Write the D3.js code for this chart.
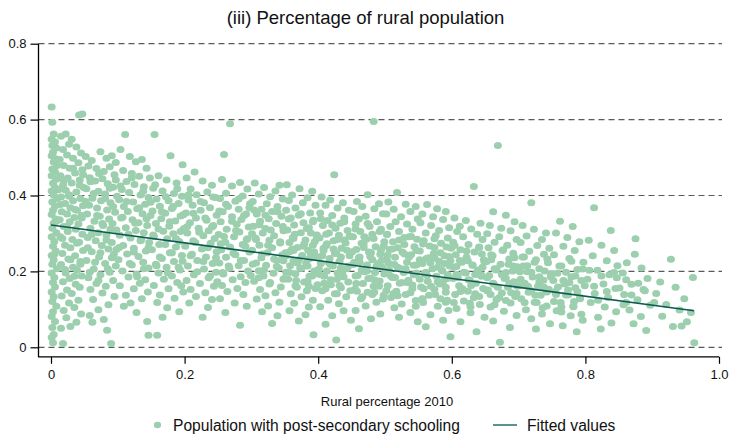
<!DOCTYPE html>
<html>
<head>
<meta charset="utf-8">
<script src="https://cdn.jsdelivr.net/npm/d3@7"></script>
<style>
  html, body { margin: 0; padding: 0; background: #fff; }
  svg { display: block; font-family: "Liberation Sans", Arial, sans-serif; }
</style>
</head>
<body>
<svg id="chart" width="730" height="439"></svg>
<script>
// ---------------- DATA ----------------
const chartTitle = "(iii) Percentage of rural population";
const xAxisTitle = "Rural percentage 2010";
const xTicks = [0, 0.2, 0.4, 0.6, 0.8, 1.0];
const xTickLabels = ["0", "0.2", "0.4", "0.6", "0.8", "1.0"];
const yTicks = [0, 0.2, 0.4, 0.6, 0.8];
const yTickLabels = ["0", "0.2", "0.4", "0.6", "0.8"];
const legendLabels = ["Population with post-secondary schooling", "Fitted values"];

// fitted line (rural share, fitted post-secondary share)
const fittedX = [0, 0.9626];
const fittedY = [0.3223, 0.0964];

// observations: [rural percentage 2010, share with post-secondary schooling]
const obsUrban = [
[.001,.633],[.002,.593],[.004,.562],[.001,.548],[.006,.541],[.002,.532],[.008,.525],[.003,.514],[.001,.505],[.007,.497],[.004,.488],[.009,.479],[.002,.470],[.005,.461],[.001,.452],[.008,.443],[.003,.432],[.006,.421],[.001,.412],[.004,.401],[.009,.392],[.002,.383],[.006,.372],[.003,.361],[.001,.350],[.007,.338],[.004,.327],[.002,.314],[.008,.302],[.001,.291],[.005,.279],[.003,.266],[.007,.254],[.001,.242],[.004,.231],[.002,.219],[.009,.207],[.001,.196],[.005,.184],[.003,.171],[.006,.159],[.001,.146],[.004,.133],[.002,.121],[.008,.108],[.003,.094],[.001,.081],[.006,.068],[.002,.052],[.004,.034],[.001,.026],[.003,.012],
[.015,.556],[.022,.562],[.031,.548],[.027,.535],[.018,.521],[.038,.528],[.045,.512],[.024,.507],[.013,.495],[.033,.498],[.041,.486],[.019,.479],[.028,.472],[.047,.468],[.036,.459],[.014,.452],[.025,.446],[.043,.441],[.031,.433],[.018,.427],[.049,.421],[.022,.414],[.038,.409],[.027,.402],[.015,.396],[.044,.392],[.033,.386],[.021,.379],[.048,.373],[.029,.368],[.039,.361],[.016,.357],[.024,.351],[.046,.347],[.035,.342],[.013,.336],[.028,.331],[.041,.325],[.019,.318],[.037,.311],[.025,.305],[.047,.298],[.014,.291],[.032,.284],[.042,.277],[.021,.269],[.029,.262],[.048,.255],[.017,.247],[.036,.241],[.026,.233],[.044,.226],[.015,.218],[.033,.211],[.039,.203],[.022,.196],[.046,.188],[.028,.181],[.018,.173],[.037,.166],[.043,.158],[.024,.151],[.031,.142],[.016,.135],[.041,.124],[.027,.117],[.035,.105],[.019,.097],[.045,.088],[.023,.078],[.038,.066],[.029,.055],[.018,.010],[.042,.612],[.047,.615],[.015,.050],
[.052,.503],[.061,.492],[.074,.515],[.083,.498],[.091,.505],[.097,.487],[.056,.478],[.068,.471],[.079,.463],[.088,.476],[.095,.455],[.058,.447],[.066,.438],[.077,.444],[.085,.431],[.093,.422],[.053,.418],[.071,.411],[.081,.404],[.099,.398],[.062,.393],[.075,.386],[.089,.381],[.057,.374],[.069,.367],[.084,.362],[.096,.356],[.054,.351],[.073,.345],[.087,.338],[.065,.332],[.092,.326],[.078,.321],[.059,.314],[.098,.309],[.071,.302],[.083,.296],[.055,.289],[.067,.281],[.091,.276],[.076,.268],[.086,.259],[.061,.252],[.094,.245],[.072,.238],[.053,.229],[.081,.221],[.097,.214],[.064,.206],[.088,.198],[.074,.191],[.056,.183],[.093,.176],[.068,.168],[.082,.161],[.059,.152],[.077,.143],[.095,.134],[.063,.126],[.086,.112],[.071,.099],[.058,.084],[.062,.066],[.079,.073],[.090,.010],[.084,.045],
[.104,.521],[.118,.503],[.111,.561],[.127,.489],[.136,.495],[.143,.472],[.108,.466],[.121,.458],[.132,.451],[.148,.446],[.113,.437],[.125,.429],[.139,.423],[.106,.416],[.117,.408],[.134,.401],[.146,.395],[.102,.389],[.123,.383],[.141,.377],[.109,.371],[.129,.365],[.115,.358],[.137,.352],[.149,.347],[.105,.341],[.122,.336],[.131,.328],[.144,.321],[.112,.315],[.127,.308],[.139,.302],[.103,.295],[.119,.288],[.134,.281],[.147,.276],[.108,.268],[.124,.261],[.142,.254],[.114,.246],[.131,.239],[.101,.231],[.138,.224],[.121,.217],[.146,.209],[.107,.201],[.128,.193],[.116,.185],[.141,.178],[.133,.169],[.103,.162],[.124,.154],[.145,.146],[.112,.137],[.136,.128],[.119,.117],[.144,.068],[.146,.032],[.128,.092],[.109,.108],
[.155,.561],[.179,.505],[.197,.481],[.161,.452],[.173,.441],[.188,.433],[.153,.419],[.167,.412],[.184,.405],[.196,.398],[.158,.391],[.176,.386],[.191,.379],[.163,.372],[.181,.366],[.152,.359],[.171,.353],[.194,.346],[.165,.339],[.186,.333],[.157,.326],[.177,.319],[.199,.313],[.168,.306],[.183,.299],[.154,.292],[.174,.286],[.192,.279],[.162,.271],[.187,.264],[.151,.257],[.178,.249],[.196,.242],[.166,.234],[.184,.226],[.157,.219],[.173,.211],[.193,.204],[.161,.196],[.181,.188],[.169,.179],[.189,.171],[.154,.163],[.176,.154],[.198,.146],[.163,.138],[.185,.129],[.159,.118],[.174,.104],[.192,.094],[.159,.032],[.167,.079],[.195,.162]
];

const obsMixed = [
[.215,.462],[.203,.446],[.227,.438],[.241,.427],[.209,.417],[.234,.409],[.218,.402],[.246,.395],[.206,.388],[.229,.381],[.212,.374],[.238,.368],[.224,.361],[.202,.354],[.248,.348],[.217,.341],[.233,.335],[.208,.328],[.243,.321],[.221,.314],[.236,.307],[.204,.301],[.228,.294],[.245,.287],[.213,.281],[.239,.274],[.201,.266],[.226,.259],[.248,.252],[.211,.245],[.232,.238],[.219,.229],[.242,.221],[.205,.214],[.229,.206],[.247,.198],[.214,.191],[.236,.183],[.203,.176],[.223,.168],[.244,.161],[.209,.152],[.231,.144],[.217,.134],[.241,.126],[.207,.117],[.227,.079],[.235,.105],[.249,.173],
[.259,.508],[.268,.589],[.283,.434],[.256,.442],[.271,.425],[.294,.417],[.262,.406],[.287,.399],[.253,.392],[.276,.385],[.298,.378],[.265,.371],[.281,.364],[.257,.357],[.292,.351],[.271,.344],[.285,.337],[.254,.331],[.278,.324],[.296,.317],[.263,.311],[.282,.304],[.251,.297],[.274,.291],[.293,.284],[.261,.277],[.287,.271],[.268,.264],[.255,.257],[.297,.251],[.276,.244],[.262,.237],[.289,.229],[.252,.222],[.281,.215],[.267,.208],[.295,.201],[.258,.193],[.284,.186],[.272,.178],[.291,.171],[.256,.163],[.279,.155],[.264,.147],[.288,.139],[.253,.128],[.275,.117],[.293,.108],[.283,.058],[.261,.092],[.299,.189],
[.305,.433],[.319,.421],[.336,.412],[.342,.427],[.311,.404],[.328,.397],[.347,.391],[.302,.384],[.323,.378],[.339,.371],[.315,.364],[.331,.358],[.308,.351],[.345,.345],[.326,.339],[.313,.332],[.337,.326],[.303,.319],[.321,.313],[.348,.307],[.317,.301],[.334,.294],[.306,.288],[.327,.282],[.343,.275],[.312,.269],[.331,.262],[.301,.256],[.324,.249],[.346,.243],[.315,.236],[.338,.229],[.307,.222],[.322,.216],[.341,.209],[.311,.202],[.333,.195],[.318,.188],[.349,.181],[.304,.174],[.327,.167],[.344,.159],[.313,.152],[.336,.144],[.321,.136],[.308,.127],[.342,.119],[.325,.109],[.316,.094],[.339,.083],[.331,.063],[.348,.228],[.301,.299],
[.353,.428],[.372,.418],[.391,.411],[.361,.401],[.384,.394],[.356,.387],[.377,.381],[.396,.374],[.366,.367],[.352,.361],[.388,.354],[.371,.348],[.359,.341],[.393,.335],[.378,.328],[.364,.322],[.386,.315],[.354,.309],[.374,.302],[.398,.296],[.362,.289],[.381,.283],[.357,.276],[.392,.269],[.369,.263],[.385,.256],[.351,.249],[.376,.242],[.397,.236],[.363,.229],[.382,.222],[.358,.215],[.373,.208],[.394,.201],[.366,.194],[.387,.187],[.355,.179],[.379,.172],[.399,.165],[.368,.158],[.383,.149],[.359,.141],[.375,.133],[.392,.124],[.364,.116],[.386,.106],[.357,.096],[.381,.086],[.371,.069],[.393,.033],[.363,.255],[.389,.301],
[.424,.455],[.405,.396],[.418,.388],[.437,.381],[.411,.374],[.429,.367],[.446,.361],[.403,.354],[.421,.347],[.439,.341],[.414,.334],[.433,.327],[.407,.321],[.426,.314],[.444,.308],[.416,.301],[.431,.295],[.402,.288],[.423,.281],[.441,.275],[.412,.268],[.435,.261],[.408,.255],[.427,.248],[.447,.241],[.417,.234],[.432,.227],[.404,.221],[.422,.214],[.443,.207],[.413,.201],[.436,.194],[.409,.187],[.428,.179],[.445,.172],[.419,.165],[.434,.157],[.406,.149],[.425,.141],[.442,.133],[.415,.124],[.431,.115],[.403,.107],[.438,.096],[.421,.083],[.449,.071],[.411,.061],[.427,.019],[.448,.292],[.401,.238],
[.483,.595],[.474,.402],[.458,.384],[.491,.378],[.466,.371],[.484,.365],[.453,.358],[.497,.352],[.471,.345],[.461,.338],[.488,.331],[.456,.325],[.477,.318],[.494,.311],[.463,.305],[.481,.298],[.452,.291],[.472,.285],[.499,.278],[.468,.271],[.486,.265],[.457,.258],[.476,.251],[.493,.245],[.462,.238],[.481,.231],[.454,.224],[.473,.217],[.496,.211],[.465,.204],[.485,.197],[.459,.189],[.478,.182],[.492,.175],[.467,.168],[.483,.161],[.455,.153],[.474,.145],[.498,.137],[.464,.128],[.487,.119],[.471,.109],[.456,.097],[.493,.088],[.479,.075],[.461,.049],[.488,.214],[.469,.291]
];

const obsRural = [
[.518,.408],[.505,.383],[.531,.377],[.546,.371],[.513,.364],[.538,.358],[.502,.351],[.524,.344],[.549,.338],[.516,.331],[.533,.325],[.508,.318],[.541,.311],[.521,.305],[.503,.298],[.536,.291],[.548,.285],[.512,.278],[.529,.271],[.544,.265],[.507,.258],[.526,.251],[.539,.244],[.515,.237],[.501,.231],[.533,.224],[.547,.217],[.519,.211],[.506,.204],[.528,.197],[.543,.191],[.511,.184],[.535,.177],[.522,.169],[.504,.162],[.541,.155],[.517,.148],[.531,.139],[.509,.131],[.546,.123],[.525,.114],[.514,.104],[.538,.092],[.521,.079],[.549,.067],[.503,.229],[.529,.289],
[.563,.376],[.578,.365],[.591,.358],[.556,.351],[.572,.344],[.587,.337],[.553,.328],[.569,.321],[.596,.315],[.581,.308],[.561,.301],[.576,.294],[.594,.288],[.558,.281],[.584,.274],[.567,.267],[.599,.261],[.552,.254],[.573,.247],[.589,.241],[.562,.234],[.581,.227],[.556,.221],[.597,.214],[.571,.207],[.586,.201],[.559,.194],[.577,.187],[.593,.181],[.564,.174],[.582,.167],[.554,.159],[.574,.152],[.591,.145],[.566,.137],[.583,.128],[.557,.118],[.579,.108],[.595,.097],[.568,.086],[.587,.071],[.561,.054],[.598,.028],[.574,.235],[.589,.221],
[.633,.424],[.604,.341],[.621,.334],[.643,.327],[.612,.319],[.629,.312],[.608,.305],[.638,.298],[.617,.291],[.646,.284],[.602,.277],[.625,.271],[.641,.264],[.613,.257],[.634,.251],[.606,.244],[.622,.237],[.648,.231],[.615,.224],[.631,.217],[.603,.211],[.639,.204],[.619,.197],[.644,.191],[.609,.184],[.627,.177],[.636,.169],[.611,.162],[.647,.155],[.624,.148],[.605,.139],[.633,.131],[.618,.122],[.642,.113],[.607,.102],[.628,.091],[.649,.079],[.613,.067],[.637,.041],[.621,.196],[.645,.246],
[.669,.532],[.662,.357],[.681,.348],[.694,.331],[.657,.321],[.674,.314],[.688,.307],[.653,.299],[.671,.291],[.697,.284],[.664,.277],[.683,.269],[.655,.262],[.676,.255],[.692,.248],[.661,.241],[.686,.233],[.652,.226],[.673,.219],[.698,.212],[.666,.204],[.681,.197],[.656,.189],[.679,.181],[.693,.173],[.663,.166],[.684,.158],[.654,.151],[.675,.143],[.695,.134],[.667,.126],[.688,.117],[.658,.106],[.678,.095],[.697,.084],[.662,.069],[.687,.052],[.672,.013],[.659,.231],[.691,.201],
[.719,.381],[.706,.321],[.723,.311],[.741,.301],[.712,.293],[.735,.284],[.703,.276],[.728,.268],[.746,.261],[.716,.253],[.738,.245],[.708,.238],[.726,.231],[.744,.223],[.713,.215],[.731,.207],[.702,.199],[.749,.192],[.721,.185],[.737,.177],[.709,.169],[.729,.161],[.745,.153],[.715,.145],[.733,.137],[.704,.128],[.724,.119],[.742,.109],[.711,.099],[.735,.088],[.719,.075],[.747,.062],[.726,.048],[.707,.214],[.739,.201],
[.762,.332],[.781,.318],[.756,.301],[.773,.289],[.791,.278],[.767,.266],[.784,.255],[.753,.244],[.776,.234],[.797,.224],[.764,.214],[.788,.205],[.758,.195],[.779,.186],[.794,.176],[.769,.167],[.785,.157],[.755,.147],[.774,.138],[.792,.128],[.763,.118],[.782,.107],[.757,.096],[.778,.083],[.796,.071],[.766,.057],[.787,.041],[.771,.198],[.752,.176],
[.813,.368],[.838,.308],[.805,.282],[.824,.269],[.843,.255],[.811,.241],[.832,.228],[.848,.215],[.818,.203],[.836,.191],[.803,.179],[.827,.167],[.845,.155],[.814,.142],[.834,.131],[.808,.118],[.829,.106],[.846,.094],[.819,.079],[.839,.064],[.823,.048],[.847,.183],
[.875,.286],[.874,.245],[.862,.223],[.884,.209],[.856,.196],[.893,.181],[.869,.166],[.887,.152],[.858,.139],[.878,.125],[.897,.111],[.866,.098],[.883,.081],[.872,.062],[.891,.044],[.861,.118],
[.928,.232],[.961,.184],[.963,.012],[.912,.172],[.935,.158],[.906,.142],[.948,.128],[.921,.113],[.941,.098],[.915,.082],[.952,.067],[.931,.055],[.944,.056],[.903,.118],[.958,.092]
];

// extra observations in the dense core of the cloud
const obsCore = [
[.006,.462],[.019,.438],[.033,.472],[.048,.455],[.011,.415],[.027,.398],[.043,.427],[.059,.436],[.072,.458],[.088,.419],[.097,.441],[.064,.405],[.081,.392],[.014,.376],[.036,.363],[.052,.384],[.069,.347],[.093,.371],[.008,.332],[.024,.318],[.046,.341],[.077,.326],[.061,.297],[.089,.311],[.017,.287],[.039,.274],[.055,.262],[.083,.283],[.098,.258],[.005,.245],[.029,.231],[.066,.224],[.074,.249],[.091,.236],[.021,.205],[.044,.219],[.058,.198],[.085,.207],[.035,.187],[.071,.176],
[.104,.425],[.121,.447],[.138,.411],[.156,.428],[.172,.397],[.189,.418],[.113,.384],[.132,.368],[.149,.382],[.166,.357],[.183,.371],[.198,.349],[.107,.343],[.126,.327],[.143,.339],[.161,.312],[.178,.331],[.194,.305],[.116,.298],[.135,.284],[.153,.296],[.171,.271],[.187,.287],[.102,.263],[.124,.251],[.146,.262],[.163,.238],[.181,.249],[.197,.227],[.118,.221],[.139,.207],[.158,.215],[.175,.196],[.191,.211],[.129,.186],
[.206,.402],[.224,.384],[.243,.396],[.262,.377],[.281,.391],[.297,.368],[.213,.353],[.231,.341],[.252,.359],[.271,.332],[.289,.347],[.204,.318],[.222,.303],[.241,.317],[.259,.292],[.277,.308],[.294,.286],[.216,.276],[.235,.262],[.254,.273],[.273,.248],[.291,.266],[.209,.241],[.228,.226],[.247,.236],[.266,.214],[.284,.229],[.219,.199],[.238,.188],[.257,.197],
[.304,.362],[.321,.348],[.339,.357],[.356,.338],[.374,.352],[.392,.331],[.312,.323],[.329,.309],[.347,.318],[.365,.298],[.383,.313],[.398,.291],[.307,.284],[.325,.269],[.343,.278],[.361,.259],[.379,.272],[.394,.251],[.316,.246],[.334,.233],[.352,.241],[.369,.222],[.387,.234],[.302,.219],[.319,.204],[.338,.213],[.357,.197],[.375,.208],[.391,.188],[.311,.183],[.328,.171],[.348,.179],[.366,.162],[.384,.174],[.396,.155],
[.404,.339],[.421,.322],[.439,.331],[.456,.312],[.474,.326],[.492,.305],[.412,.298],[.429,.284],[.447,.293],[.465,.274],[.483,.287],[.498,.267],[.408,.261],[.425,.247],[.443,.256],[.461,.236],[.479,.249],[.495,.229],[.416,.223],[.434,.209],[.452,.218],[.469,.199],[.487,.212],[.402,.192],[.419,.178],[.438,.186],[.457,.168],[.475,.181],[.491,.161],[.411,.154],[.428,.141],[.448,.149],[.466,.133],[.484,.145],[.497,.127],
[.503,.297],[.521,.283],[.539,.292],[.557,.272],[.574,.286],[.592,.264],[.511,.259],[.529,.246],[.547,.255],[.565,.236],[.583,.249],[.598,.228],[.506,.221],[.524,.207],[.543,.216],[.561,.198],[.579,.211],[.594,.191],[.515,.184],[.533,.171],[.552,.179],[.569,.161],[.587,.174],[.502,.149],[.519,.136],[.538,.144],[.556,.127],[.575,.139],[.591,.119],[.546,.108],
[.604,.268],[.622,.254],[.641,.263],[.659,.244],[.677,.257],[.694,.236],[.612,.229],[.631,.216],[.649,.225],[.667,.206],[.685,.219],[.607,.192],[.625,.178],[.644,.187],[.662,.169],[.681,.181],[.698,.161],[.616,.154],[.635,.141],[.653,.149],[.671,.131],[.689,.144],[.603,.118],[.628,.107],[.664,.112],
[.706,.238],[.724,.224],[.743,.233],[.761,.214],[.779,.227],[.796,.206],[.713,.199],[.731,.186],[.749,.194],[.767,.176],[.785,.188],[.702,.163],[.719,.149],[.738,.158],[.756,.139],[.774,.151],[.792,.131],[.727,.118],[.764,.106],[.783,.121],
[.806,.203],[.824,.188],[.843,.197],[.861,.178],[.879,.169],[.813,.161],[.832,.147],[.851,.156],[.869,.138],[.889,.149],[.819,.124],[.857,.112]
];

// more observations packed around the fitted line (rural municipalities)
const obsCoreRural = [
[.357,.252],[.363,.287],[.371,.231],[.378,.266],[.384,.214],[.389,.247],[.395,.279],[.401,.206],[.406,.241],[.413,.273],[.418,.219],[.423,.259],[.429,.196],[.434,.238],[.439,.283],[.445,.214],[.451,.252],[.456,.188],[.462,.224],[.468,.263],[.473,.201],[.478,.239],[.484,.178],[.489,.221],[.494,.256],[.499,.193],[.352,.198],[.367,.176],[.386,.161],[.409,.169],[.432,.163],[.458,.148],[.481,.139],
[.504,.243],[.509,.187],[.514,.218],[.519,.262],[.525,.171],[.531,.207],[.536,.238],[.541,.164],[.547,.196],[.552,.231],[.558,.154],[.563,.189],[.568,.222],[.574,.263],[.579,.173],[.585,.204],[.591,.158],[.596,.239],[.602,.181],[.607,.213],[.613,.147],[.618,.198],[.624,.228],[.629,.163],[.635,.192],[.641,.134],[.646,.211],[.513,.142],[.556,.128],[.593,.124],[.627,.116],
[.653,.183],[.658,.139],[.664,.207],[.669,.158],[.675,.191],[.681,.123],[.686,.168],[.692,.214],[.697,.142],[.703,.179],[.709,.118],[.714,.161],[.719,.198],[.725,.137],[.731,.172],[.736,.104],[.742,.146],[.748,.186],[.753,.121],[.759,.159],[.764,.093],[.771,.138],[.776,.171],[.782,.109],[.788,.147],[.794,.087],[.799,.162]
];

// ---------------- DRAWING ----------------
const dotColor = "#9ccfae";
const lineColor = "#0d5b52";

const svg = d3.select("#chart");
const x = d3.scaleLinear().domain([0, 1]).range([51, 719]);
const y = d3.scaleLinear().domain([0, 0.8]).range([347.3, 43.7]);

// title
svg.append("text")
  .attr("x", 365.5).attr("y", 24)
  .attr("text-anchor", "middle")
  .attr("font-size", 18.5)
  .attr("fill", "#111")
  .text(chartTitle);

// gridlines
svg.append("g").selectAll("line").data(yTicks).join("line")
  .attr("x1", 38.5).attr("x2", 722)
  .attr("y1", d => y(d)).attr("y2", d => y(d))
  .attr("stroke", "#5a5a5a").attr("stroke-width", 1.2)
  .attr("stroke-dasharray", "6,4");

// y axis
const yAxis = d3.axisLeft(y).tickValues(yTicks)
  .tickFormat((d, i) => yTickLabels[i]).tickSize(8).tickPadding(4);
const gy = svg.append("g").attr("transform", "translate(38.5,0)").call(yAxis);
gy.select(".domain").remove();
gy.append("line").attr("x1", 0).attr("x2", 0).attr("y1", y(0.8)).attr("y2", 357)
  .attr("stroke", "#000").attr("stroke-width", 1.3);
gy.selectAll(".tick line").attr("stroke", "#000").attr("stroke-width", 1.2);
gy.selectAll(".tick text").attr("font-size", 13).attr("fill", "#111")
  .attr("font-family", "Liberation Sans, Arial, sans-serif");

// x axis
const xAxis = d3.axisBottom(x).tickValues(xTicks)
  .tickFormat((d, i) => xTickLabels[i]).tickSize(7).tickPadding(6);
const gx = svg.append("g").attr("transform", "translate(0,356.8)").call(xAxis);
gx.select(".domain").remove();
gx.append("line").attr("x1", 38).attr("x2", 719).attr("y1", 0).attr("y2", 0)
  .attr("stroke", "#000").attr("stroke-width", 1.3);
gx.selectAll(".tick line").attr("stroke", "#000").attr("stroke-width", 1.2);
gx.selectAll(".tick text").attr("font-size", 13).attr("fill", "#111")
  .attr("font-family", "Liberation Sans, Arial, sans-serif");

// x axis title
svg.append("text")
  .attr("x", 387).attr("y", 406)
  .attr("text-anchor", "middle")
  .attr("font-size", 13)
  .attr("fill", "#111")
  .text(xAxisTitle);

// points
const allObs = [].concat(obsUrban, obsMixed, obsRural, obsCore, obsCoreRural);
svg.append("g").selectAll("ellipse").data(allObs).join("ellipse")
  .attr("cx", d => x(d[0])).attr("cy", d => y(d[1]))
  .attr("rx", 4).attr("ry", 3.5)
  .attr("fill", dotColor);

// fitted line
svg.append("path")
  .datum(fittedX.map((v, i) => [v, fittedY[i]]))
  .attr("d", d3.line().x(d => x(d[0])).y(d => y(d[1])))
  .attr("fill", "none").attr("stroke", lineColor).attr("stroke-width", 1.6);

// legend
const lg = svg.append("g");
lg.append("ellipse").attr("cx", 157.5).attr("cy", 425).attr("rx", 3.6).attr("ry", 3.3).attr("fill", dotColor);
lg.append("text").attr("x", 173).attr("y", 431).attr("font-size", 15.6).attr("fill", "#111").text(legendLabels[0]);
lg.append("line").attr("x1", 493).attr("x2", 517).attr("y1", 425).attr("y2", 425)
  .attr("stroke", "#2e7a6f").attr("stroke-width", 1.6);
lg.append("text").attr("x", 527).attr("y", 431).attr("font-size", 15.6).attr("fill", "#111").text(legendLabels[1]);
</script>
</body>
</html>
